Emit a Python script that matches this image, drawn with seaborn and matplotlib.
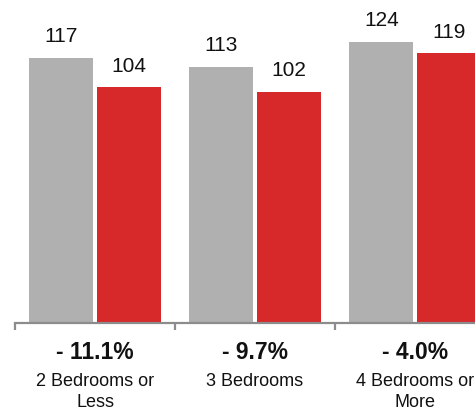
import matplotlib
matplotlib.use("Agg")
import matplotlib.pyplot as plt
import seaborn as sns
import pandas as pd

categories = ["2 Bedrooms or\nLess", "3 Bedrooms", "4 Bedrooms or\nMore"]
prev_values = [117, 113, 124]
curr_values = [104, 102, 119]
change_labels = ["- 11.1%", "- 9.7%", "- 4.0%"]
series = ["Previous", "Current"]

df = pd.DataFrame({
    "category": categories * 2,
    "value": prev_values + curr_values,
    "series": [series[0]] * 3 + [series[1]] * 3,
})

sns.set_theme(style="white")
plt.rcParams["font.family"] = ["Liberation Sans", "DejaVu Sans"]

fig = plt.figure(figsize=(4.75, 4.12), dpi=100)
ax = fig.add_axes([15 / 475, 89 / 412, 480 / 475, 294.5 / 412])

sns.barplot(data=df, x="category", y="value", hue="series",
            palette=["#b0b0b0", "#d7282a"], saturation=1, width=0.84, gap=0.05,
            linewidth=0, legend=False, ax=ax)

for cont in ax.containers:
    ax.bar_label(cont, padding=8.5, fontsize=15, color="#111111")

ax.set_ylim(0, 130)
ax.set_xlim(-0.5, 2.5)
ax.set_yticks([])
ax.set_xlabel("")
ax.set_ylabel("")
for s in ["top", "right", "left"]:
    ax.spines[s].set_visible(False)
ax.spines["bottom"].set_color("#8c8c8c")
ax.spines["bottom"].set_linewidth(1.6)
ax.set_xticks([-0.5, 0.5, 1.5, 2.5], minor=True)
ax.set_xticks([0, 1, 2])
ax.set_xticklabels([])
ax.tick_params(axis="x", which="major", length=0)
ax.tick_params(axis="x", which="minor", length=5, width=1.6,
               color="#8c8c8c", direction="out", bottom=True)

xt = ax.get_xaxis_transform()
for i, (cat, ch) in enumerate(zip(categories, change_labels)):
    ax.annotate(ch, xy=(i, 0), xycoords=xt, xytext=(0, -21),
                textcoords="offset points", ha="center", va="center",
                fontsize=16.5, fontweight="bold", color="#111111",
                annotation_clip=False)
    ax.annotate(cat, xy=(i, 0), xycoords=xt, xytext=(0, -36),
                textcoords="offset points", ha="center", va="top",
                fontsize=13, color="#111111", linespacing=1.3,
                annotation_clip=False)

fig.savefig("out.png", dpi=100)
